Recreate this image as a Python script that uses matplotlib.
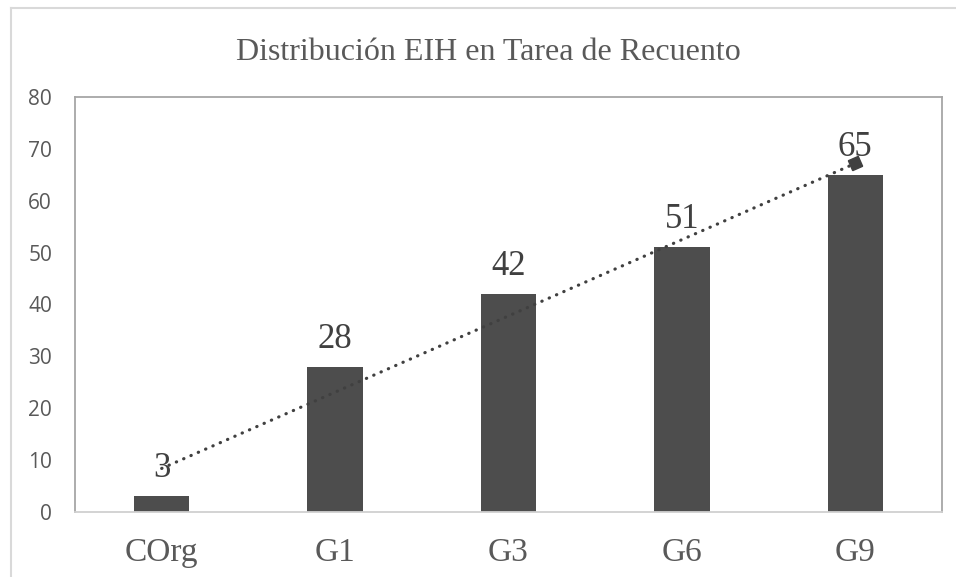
import matplotlib.pyplot as plt
import numpy as np

categories = ["COrg", "G1", "G3", "G6", "G9"]
values = [3, 28, 42, 51, 65]
yticks = [0, 10, 20, 30, 40, 50, 60, 70, 80]

bar_color = '#4d4d4d'
text_gray = '#595959'
serif = ['Liberation Serif', 'DejaVu Serif']
sans = ['Open Sans', 'DejaVu Sans']

fig = plt.figure(figsize=(9.56, 5.77), dpi=100)
W, H = 956, 577
# plot area in pixels: x 75..942, y 97..512
ax = fig.add_axes([75/W, 1-512/H, (942-75)/W, (512-97)/H])

x = np.arange(len(categories))
ax.bar(x, values, width=0.32, color=bar_color, zorder=2)

# linear trendline
coef = np.polyfit(x, values, 1)
trend = np.polyval(coef, x)
ax.plot(x, trend, linestyle=(0, (0.1, 2.4)), dash_capstyle='round',
        color='#404040', linewidth=2.3, zorder=3)
ang = np.degrees(np.arctan2((trend[-1]-trend[-2])*415/80, 173.4))
ax.plot([x[-1]], [trend[-1]], marker=(4, 0, 45+ang), markersize=11,
        color='#404040', linestyle='none', zorder=3)

for xi, v in zip(x, values):
    ax.text(xi, v + 3.66, str(v), ha='center', va='baseline', fontsize=25,
            family=serif, color='#404040', zorder=4)

ax.set_xlim(-0.5, len(categories) - 0.5)
ax.set_ylim(0, 80)
ax.set_yticks(yticks)
ax.set_yticklabels([str(t) for t in yticks], fontsize=15, family=sans,
                   color=text_gray)
ax.set_xticks(x)
ax.set_xticklabels(categories, fontsize=24, family=serif, color=text_gray)
ax.tick_params(axis='both', length=0)
ax.tick_params(axis='y', pad=16.5)
ax.tick_params(axis='x', pad=18.4)

for s in ax.spines.values():
    s.set_color('#a6a6a6')
    s.set_linewidth(1.3)
ax.spines['bottom'].set_color('#d0d0d0')

fig.text(488/W, 1-52/H, "Distribución EIH en Tarea de Recuento", ha='center',
         va='center', fontsize=23, family=serif, color=text_gray)

# outer chart frame (left and top visible)
fig.add_artist(plt.Line2D([11/W, 11/W], [0, 1-8/H], transform=fig.transFigure,
                          color='#d9d9d9', linewidth=1.5))
fig.add_artist(plt.Line2D([11/W, 1], [1-8/H, 1-8/H], transform=fig.transFigure,
                          color='#d9d9d9', linewidth=1.5))

fig.savefig('out.png', dpi=100)
